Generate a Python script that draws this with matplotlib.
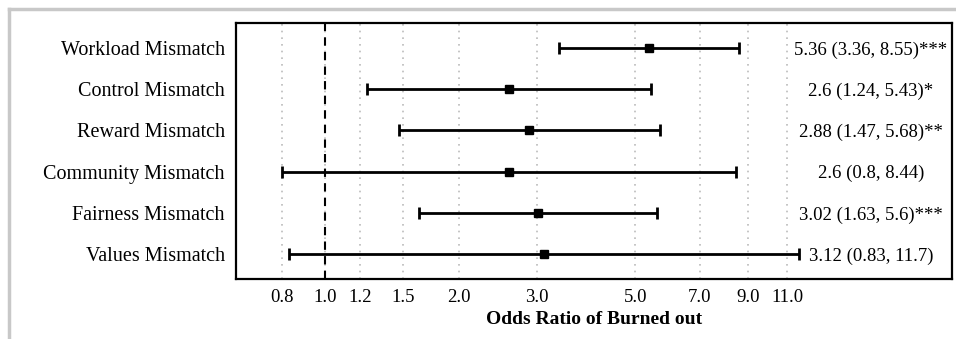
import matplotlib
matplotlib.use("Agg")
import matplotlib.pyplot as plt
from matplotlib.lines import Line2D
import numpy as np

labels = ["Workload Mismatch", "Control Mismatch", "Reward Mismatch",
          "Community Mismatch", "Fairness Mismatch", "Values Mismatch"]
odds = [5.36, 2.6, 2.88, 2.6, 3.02, 3.12]
lower = [3.36, 1.24, 1.47, 0.8, 1.63, 0.83]
upper = [8.55, 5.43, 5.68, 8.44, 5.6, 11.7]
stars = ["***", "*", "**", "", "***", ""]
xticks = [0.8, 1.0, 1.2, 1.5, 2.0, 3.0, 5.0, 7.0, 9.0, 11.0]

plt.rcParams['font.family'] = ['Liberation Serif', 'DejaVu Serif']

fig = plt.figure(figsize=(9.56, 3.39), dpi=100)
ax = fig.add_axes([0.2469, 0.177, 0.749, 0.755])

y = np.arange(1, len(labels) + 1)
o = np.array(odds); lo = np.array(lower); hi = np.array(upper)
ax.errorbar(o, y, xerr=[o - lo, hi - o], fmt='s', color='black', ms=6,
            elinewidth=2, capsize=4, capthick=2, zorder=3)
ax.axvline(1.0, color='black', ls=(0, (4, 3)), lw=1.5, zorder=2)

for yi, oi, l, h, s in zip(y, odds, lower, upper, stars):
    ax.text(17, yi, f"{oi} ({l}, {h}){s}", ha='center', va='center_baseline', fontsize=13.5)

ax.set_xscale('log')
ax.set_xlim(0.63, 25.9)
ax.set_ylim(6.6, 0.4)
ax.set_xticks(xticks)
ax.set_xticklabels([f"{t:.1f}" for t in xticks], fontsize=13.5)
ax.xaxis.set_minor_locator(matplotlib.ticker.NullLocator())
ax.set_yticks(y)
ax.set_yticklabels(labels, fontsize=14.5)
ax.tick_params(length=0, pad=7)
ax.tick_params(axis='y', pad=8)
for t in xticks:
    ax.axvline(t, color='#bbbbbb', ls=(0, (1, 3)), lw=1.2, zorder=1)
ax.set_xlabel("Odds Ratio of Burned out", fontsize=14, fontweight='bold', labelpad=4)
for sp in ax.spines.values():
    sp.set_linewidth(1.6)

fig.add_artist(Line2D([8.5/956, 8.5/956], [0, 1 - 8.5/339], color='#c8c8c8', lw=2.5,
                      transform=fig.transFigure))
fig.add_artist(Line2D([8.5/956, 1], [1 - 8.5/339, 1 - 8.5/339], color='#c8c8c8', lw=2.5,
                      transform=fig.transFigure))

fig.savefig("out.png", dpi=100)
